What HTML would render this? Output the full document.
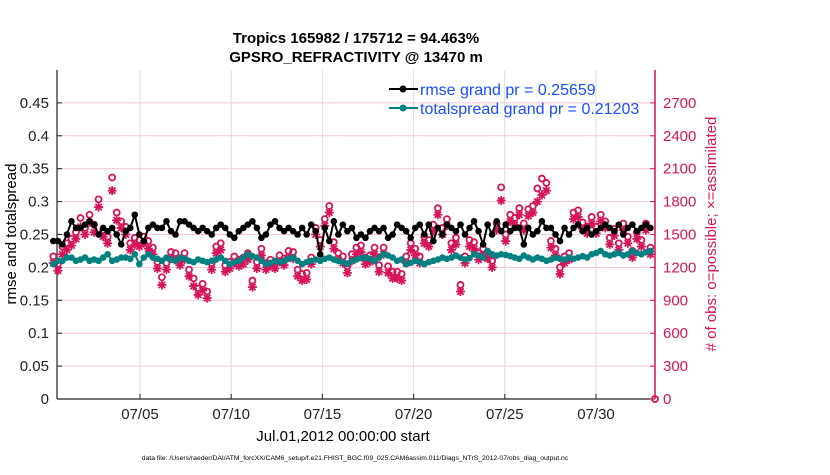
<!DOCTYPE html>
<html><head><meta charset="utf-8"><style>
body{margin:0;background:#fff;width:830px;height:470px;overflow:hidden}
svg text{font-family:"Liberation Sans",sans-serif}
</style></head><body>
<svg id="chart" width="830" height="470" xmlns="http://www.w3.org/2000/svg">
<g id="grid"></g><g id="axes"></g><g id="marks"></g>
<text x="356" y="43" font-size="15" font-weight="bold" text-anchor="middle">Tropics 165982 / 175712 = 94.463%</text>
<text x="356" y="62" font-size="15" font-weight="bold" text-anchor="middle">GPSRO_REFRACTIVITY @ 13470 m</text>
<text transform="translate(16,234) rotate(-90)" font-size="15" text-anchor="middle">rmse and totalspread</text>
<text transform="translate(716,234) rotate(-90)" font-size="15" fill="#d4145a" text-anchor="middle"># of obs: o=possible; ×=assimilated</text>
<text x="343" y="441" font-size="15" text-anchor="middle">Jul.01,2012 00:00:00 start</text>
<text x="355" y="460" font-size="6.8" text-anchor="middle">data file: /Users/raeder/DAI/ATM_forcXX/CAM6_setup/f.e21.FHIST_BGC.f09_025.CAM6assim.011/Diags_NTrS_2012-07/obs_diag_output.nc</text>
<g>
<line x1="389" y1="89" x2="418" y2="89" stroke="#000" stroke-width="2"/><circle cx="403" cy="89" r="3.5" fill="#000"/>
<text x="420" y="95" font-size="16" fill="#1a4dff">rmse grand pr = 0.25659</text>
<line x1="389" y1="108" x2="418" y2="108" stroke="#008080" stroke-width="2"/><circle cx="403" cy="108" r="3.5" fill="#008080"/>
<text x="420" y="114" font-size="16" fill="#1a4dff">totalspread grand pr = 0.21203</text>
</g>
</svg>
<script>
const rmse=[.24,.24,.235,.25,.27,.26,.26,.265,.27,.265,.25,.26,.255,.26,.25,.235,.255,.26,.28,.25,.24,.26,.265,.26,.26,.27,.255,.25,.27,.27,.265,.26,.255,.26,.255,.25,.26,.265,.26,.25,.245,.255,.26,.265,.27,.26,.245,.25,.265,.27,.26,.255,.26,.255,.25,.26,.25,.265,.255,.22,.26,.24,.27,.25,.265,.255,.26,.245,.25,.245,.255,.26,.255,.26,.245,.25,.265,.26,.255,.245,.26,.265,.25,.265,.24,.26,.25,.265,.26,.255,.265,.25,.26,.27,.255,.235,.265,.25,.27,.255,.265,.255,.26,.26,.235,.26,.25,.255,.27,.26,.26,.25,.24,.26,.25,.26,.265,.255,.26,.25,.255,.26,.265,.26,.255,.265,.25,.26,.265,.255,.26,.265,.26];
const spread=[.205,.21,.21,.215,.215,.21,.212,.215,.21,.212,.21,.215,.22,.21,.212,.215,.215,.213,.22,.205,.215,.22,.215,.213,.21,.215,.212,.21,.215,.213,.21,.208,.212,.21,.208,.21,.212,.215,.21,.205,.208,.21,.215,.22,.217,.215,.21,.205,.207,.21,.208,.21,.213,.215,.21,.205,.208,.21,.212,.21,.213,.215,.212,.21,.208,.205,.21,.212,.214,.215,.213,.21,.215,.22,.218,.215,.21,.212,.205,.207,.21,.208,.205,.208,.21,.212,.215,.213,.215,.218,.215,.212,.214,.22,.218,.215,.225,.22,.218,.22,.219,.217,.215,.213,.218,.215,.212,.215,.213,.21,.212,.215,.213,.212,.215,.213,.215,.217,.215,.22,.222,.225,.22,.218,.22,.222,.218,.22,.225,.222,.22,.223,.225];
const possible=[1300,1230,1390,1420,1460,1520,1650,1560,1680,1590,1820,1540,1480,2020,1700,1620,1570,1420,1470,1450,1480,1440,1380,1250,1110,1240,1340,1330,1280,1330,1180,1100,1010,1050,980,1240,1390,1420,1220,1250,1300,1270,1290,1330,1080,1250,1370,1240,1270,1250,1310,1280,1350,1340,1180,1140,1150,1290,1560,1450,1640,1760,1430,1330,1300,1210,1320,1380,1400,1290,1310,1380,1220,1380,1210,1160,1160,1140,1300,1420,1370,1300,1480,1450,1590,1740,1560,1640,1420,1470,1040,1300,1450,1430,1330,1370,1340,1260,1600,1930,1500,1680,1650,1740,1600,1730,1760,1920,2010,1970,1440,1370,1200,1300,1330,1700,1720,1610,1570,1660,1570,1680,1620,1470,1550,1420,1600,1480,1350,1520,1450,1600,1380];
const assimilated=[1240,1170,1320,1360,1400,1460,1570,1500,1610,1520,1750,1480,1420,1900,1630,1560,1500,1360,1410,1390,1420,1370,1320,1190,1040,1180,1280,1270,1220,1270,1120,1030,950,990,920,1180,1330,1360,1160,1190,1240,1210,1230,1270,1020,1190,1310,1180,1210,1190,1250,1220,1290,1280,1120,1080,1090,1230,1500,1390,1580,1700,1370,1270,1240,1150,1260,1320,1340,1230,1250,1320,1160,1320,1150,1100,1100,1080,1240,1360,1310,1240,1420,1390,1530,1680,1500,1580,1360,1410,980,1240,1390,1370,1270,1310,1280,1200,1540,1810,1440,1620,1590,1680,1540,1670,1700,1800,1860,1900,1380,1310,1140,1240,1270,1640,1660,1550,1510,1600,1510,1620,1560,1410,1490,1360,1540,1420,1290,1460,1390,1540,1320];
const yTicks=[0,.05,.1,.15,.2,.25,.3,.35,.4,.45];
const y2Ticks=[0,300,600,900,1200,1500,1800,2100,2400,2700];
const xTickDays=[5,10,15,20,25,30];
const xTickLabels=["07/05","07/10","07/15","07/20","07/25","07/30"];

const L=57,R=655,T=70,B=399;
const X=d=>140+(d-5)*18.24;
const Y=v=>B-(v/0.5)*(B-T);
const Y2=n=>B-(n/3000)*(B-T);
const dayOf=i=>0.25+i*0.248;
const NS="http://www.w3.org/2000/svg";
function mk(tag,attrs,parent){const e=document.createElementNS(NS,tag);for(const k in attrs)e.setAttribute(k,attrs[k]);document.getElementById(parent).appendChild(e);return e;}
const MAG="#d4145a";
y2Ticks.forEach(t=>{const g=mk('line',{x1:L,x2:R,y1:Y2(t),y2:Y2(t),stroke:'#f2c6d6','stroke-width':1},'grid');

});
xTickDays.forEach(d=>{const g=mk('line',{x1:X(d),x2:X(d),y1:T,y2:B,stroke:'#dcdcdc','stroke-width':1},'grid');

});
let a=mk('line',{x1:L,x2:L,y1:T,y2:B,stroke:'#222','stroke-width':1.2},'axes');


a=mk('line',{x1:L,x2:R,y1:B,y2:B,stroke:'#222','stroke-width':1.2},'axes');


a=mk('line',{x1:R,x2:R,y1:T,y2:B,stroke:MAG,'stroke-width':1.5},'axes');


yTicks.forEach(t=>{mk('line',{x1:L,x2:L+5,y1:Y(t),y2:Y(t),stroke:'#222'},'axes');
const tx=mk('text',{x:L-8,y:Y(t)+5,'font-size':15,'text-anchor':'end',fill:'#222'},'axes');tx.textContent=String(t);

});
y2Ticks.forEach(t=>{mk('line',{x1:R-5,x2:R,y1:Y2(t),y2:Y2(t),stroke:MAG},'axes');
const tx=mk('text',{x:R+8,y:Y2(t)+5,'font-size':15,fill:MAG},'axes');tx.textContent=String(t);

});
xTickDays.forEach((d,i)=>{mk('line',{x1:X(d),x2:X(d),y1:B,y2:B-5,stroke:'#222'},'axes');
const tx=mk('text',{x:X(d),y:B+20,'font-size':15,'text-anchor':'middle',fill:'#222'},'axes');tx.textContent=xTickLabels[i];

});
possible.forEach((n,i)=>{const c=mk('circle',{cx:X(dayOf(i)),cy:Y2(n),r:3,fill:'none',stroke:MAG,'stroke-width':1.8},'marks');

});
assimilated.forEach((n,i)=>{const x=X(dayOf(i)),y=Y2(n),s=4.5;
const p=mk('path',{d:`M${x-s},${y}H${x+s}M${x},${y-s}V${y+s}M${x-3.2},${y-3.2}L${x+3.2},${y+3.2}M${x-3.2},${y+3.2}L${x+3.2},${y-3.2}`,stroke:MAG,'stroke-width':1.8},'marks');

});
function series(vals,color,name){
const pts=vals.map((v,i)=>X(dayOf(i)).toFixed(1)+','+Y(v).toFixed(1)).join(' ');
const pl=mk('polyline',{points:pts,fill:'none',stroke:color,'stroke-width':2},'marks');


vals.forEach((v,i)=>{const c=mk('circle',{cx:X(dayOf(i)),cy:Y(v),r:3.3,fill:color},'marks');

});}
series(spread,'#008080','totalspread');
series(rmse,'#000','rmse');
const z=mk('circle',{cx:R,cy:B,r:3,fill:'none',stroke:MAG,'stroke-width':1.8},'marks');


</script>
</body></html>
